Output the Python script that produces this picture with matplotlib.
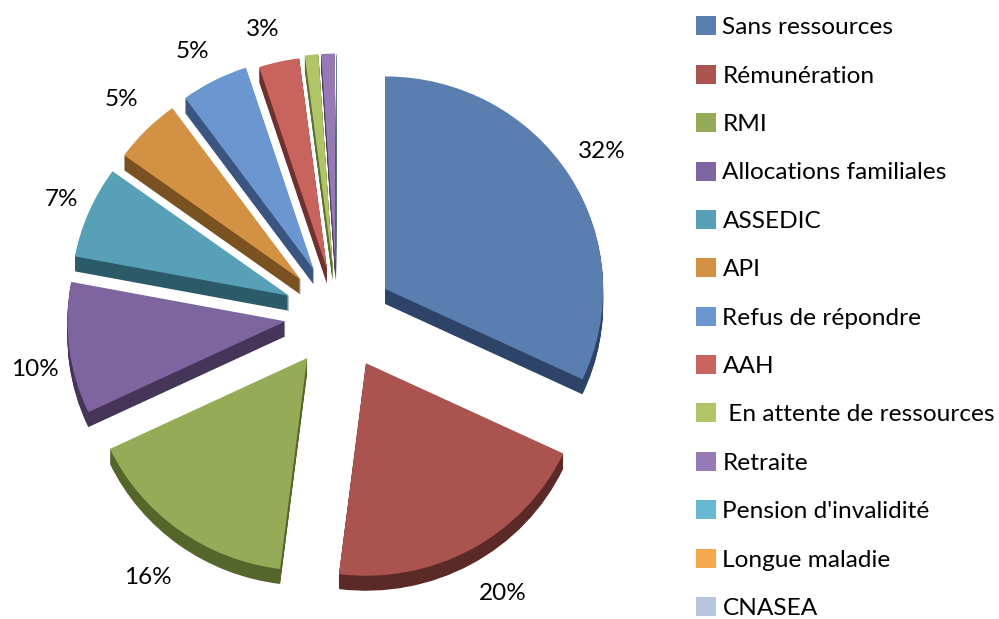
import matplotlib.pyplot as plt

plt.rcParams['font.family'] = ['Lato', 'DejaVu Sans']

categories = ['Sans ressources', 'Rémunération', 'RMI', 'Allocations familiales', 'ASSEDIC', 'API',
              'Refus de répondre', 'AAH', ' En attente de ressources', 'Retraite',
              "Pension d'invalidité", 'Longue maladie', 'CNASEA']
values = [32, 20, 16, 10, 7, 5, 5, 3, 1, 1, 0.02, 0.01, 0.01]
percent_labels = ['32%', '20%', '16%', '10%', '7%', '5%', '5%', '3%']

top_colors = ['#5A7EB0', '#AB544F', '#95AB58', '#7F659F', '#57A0B8', '#D39143', '#6B96CF',
              '#C9635E', '#AFC567', '#967AB5', '#68B7D3', '#F4A950', '#B9C6E0']
wall_colors = ['#2D4468', '#5B2A26', '#55662B', '#453558', '#2B5A68', '#7A5222', '#3A5680',
               '#6E312E', '#5F7030', '#4F3F63', '#2B5A68', '#7A5222', '#5A6A88']

# how far each slice is pulled out, and the extra vertical shift from the 3D view
explode = [57, 60, 51, 52, 52, 51, 51, 45, 45, 45, 45, 45, 45]
lift = [-9, -2, -8, -5, -6, -5, -4, -2, 0, 0, 0, 0, 0]
label_pos = [(602, 152), (503, 594), (148, 578), (35, 369), (61, 200), (121, 100), (192, 51), (263, 29)]

W, H = 999, 619
cx, cy, radius = 337, 310, 218
depth = 15
squash = 0.975  # pie is seen slightly from above


def to_y(y):
    return (H - y) / squash


fig = plt.figure(figsize=(W / 100, H / 100), dpi=100)
ax = fig.add_axes([0, 0, 1, 1])


def draw_pie(colors, drop, zorder):
    wedges, _ = ax.pie(values, colors=colors, explode=explode, startangle=90, counterclock=False,
                       radius=radius, center=(cx, to_y(cy + drop)),
                       wedgeprops={'linewidth': 0, 'zorder': zorder})
    for wedge, dy in zip(wedges, lift):
        x, y = wedge.center
        wedge.set_center((x, y + dy))
    return wedges


for drop in range(depth, 0, -1):
    draw_pie(wall_colors, drop, 1)
tops = draw_pie(top_colors, 0, 2)

ax.set_aspect('auto')
ax.set_xlim(0, W)
ax.set_ylim(0, H / squash)
ax.axis('off')

for text, (x, y) in zip(percent_labels, label_pos):
    ax.text(x, to_y(y), text, ha='center', va='center', fontsize=17.5, color='black')

ax.legend(tops, categories, loc='upper left', bbox_to_anchor=(689, to_y(9)), bbox_transform=ax.transData,
          frameon=False, fontsize=17.6, handlelength=0.82, handleheight=0.82, handletextpad=0.25,
          labelspacing=1.08, borderpad=0.3, borderaxespad=0)

fig.savefig('out.png', dpi=100)
